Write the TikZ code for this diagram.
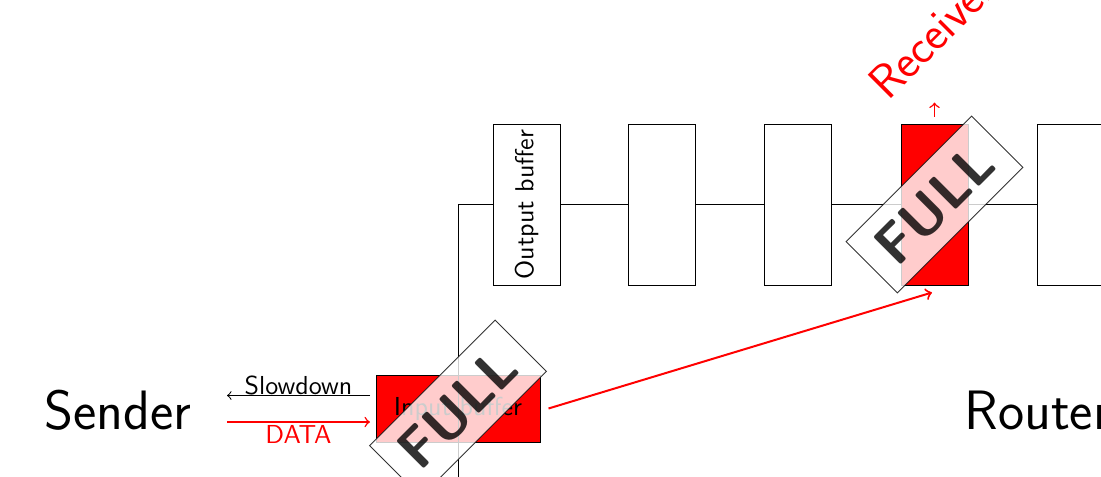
\documentclass[tikz,border=0pt]{standalone}
\begin{document}
\begin{tikzpicture}[x=0.4pt,y=0.4pt,font=\sffamily\fontsize{10.4}{12.5}\selectfont,
  buf/.style={draw, fill=white, minimum width=26.8pt, minimum height=64.4pt, inner sep=0pt},
  inbox/.style={draw, fill=red, minimum width=65.6pt, minimum height=26.8pt, inner sep=0pt},
  full/.style={draw, fill=white, opacity=0.8, rotate=45, minimum width=71pt, minimum height=29pt, font=\sffamily\bfseries\fontsize{22.5}{27}\selectfont, inner sep=0pt},
  big/.style={font=\sffamily\fontsize{22.2}{26.6}\selectfont, inner sep=0pt},
  recstyle/.style={font=\sffamily\fontsize{19}{22.8}\selectfont, inner sep=0pt, red, rotate=45, anchor=base west},
  lbl/.style={inner sep=0pt, anchor=base}]
\useasboundingbox (0,0) rectangle (1101,476);

% output buffers
\node[buf] (ob) at (526.5,271.5) {};
\node[rotate=90] (obt) at (ob.center) {Output buffer};
\node[buf] (b2) at (662,271.5) {};
\node[buf] (b3) at (798,271.5) {};
\node[buf, fill=red] (b4) at (934.5,271.5) {};
\node[buf] (b5) at (1071,271.5) {};
\draw (ob.east) -- (b2.west);
\draw (b2.east) -- (b3.west);
\draw (b3.east) -- (b4.west);
\draw (b4.east) -- (b5.west);

% input buffer
\node[inbox] (inbuf) at (458,67.5) {Input buffer};
\coordinate (vb) at (458,-30);
\draw (vb) |- (ob.west);

% sender / router / receiver
\node[big, anchor=base west] (sender) at (44,47) {Sender};
\node[big, anchor=base west] (router) at (964,47) {Router};
\node[recstyle] (recv) at (888,374) {Receiver};

% slowdown / data arrows
\coordinate (sA) at (370,80.5);
\coordinate (sB) at (227,80.5);
\draw[->] (sA) -- (sB);
\node[lbl] (slow) at (298.5,82) {Slowdown};
\coordinate (dA) at (227,54);
\coordinate (dB) at (370,54);
\draw[red,semithick,->] (dA) -- (dB);
\node[lbl, red] (data) at (298.5,33) {DATA};

% red arrows
\coordinate (r1) at ([xshift=3.2pt]inbuf.east);
\coordinate (r2) at ([xshift=-1pt,yshift=-2.8pt]b4.south);
\draw[red,thick,->] (r1) -- (r2);
\coordinate (u1) at ([yshift=2.8pt]b4.north);
\coordinate (u2) at ([yshift=8.4pt]b4.north);
\draw[red,semithick,->] (u1) -- (u2);

% stamps
\node[full] (f1) at (inbuf.center) {FULL};
\node[full] (f2) at (b4.center) {FULL};
\end{tikzpicture}
\end{document}
